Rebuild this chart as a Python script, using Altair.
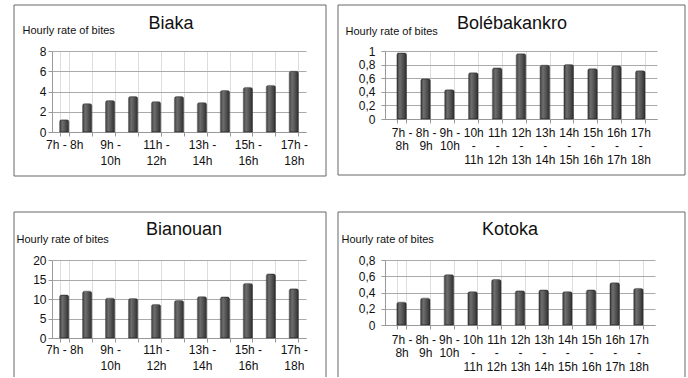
import json
import altair as alt
import pandas as pd

slots = ["7h - 8h", "8h - 9h", "9h - 10h", "10h - 11h", "11h - 12h", "12h - 13h",
         "13h - 14h", "14h - 15h", "15h - 16h", "16h - 17h", "17h - 18h"]
biaka = [1.2, 2.8, 3.1, 3.5, 3.0, 3.5, 2.9, 4.1, 4.4, 4.6, 6.0]
bole = [0.97, 0.59, 0.43, 0.68, 0.75, 0.96, 0.79, 0.80, 0.74, 0.78, 0.71]
bianouan = [11.0, 12.0, 10.2, 10.1, 8.6, 9.6, 10.6, 10.5, 14.0, 16.4, 12.6]
kotoka = [0.28, 0.33, 0.62, 0.41, 0.56, 0.42, 0.43, 0.41, 0.43, 0.52, 0.45]

FONT = "Liberation Sans"
YTITLE = "Hourly rate of bites"


def sparse_map():
    d = {}
    for i, s in enumerate(slots):
        a, b = s.split(" - ")
        if i % 2 == 1:
            d[s] = ""
        elif i == 0:
            d[s] = [s]
        else:
            d[s] = [a + " -", b]
    return d


def full_map():
    d = {}
    for s in slots:
        a, b = s.split(" - ")
        if len(a) == 2:
            d[s] = [a + " -", b]
        else:
            d[s] = [a, "-", b]
    return d


grad = alt.LinearGradient(
    gradient="linear", x1=0, x2=1, y1=0, y2=0,
    stops=[alt.GradientStop(color="#3c3c3c", offset=0),
           alt.GradientStop(color="#6e6e6e", offset=0.3),
           alt.GradientStop(color="#555555", offset=0.6),
           alt.GradientStop(color="#2e2e2e", offset=1)])


def panel(name, vals, w, h, ymax, step, fr, title_dx, title_off, atx, aty,
          labmap, lineh, xpad, ypad, pouter, comma, bottom_open):
    df = pd.DataFrame({"slot": slots, "rate": vals})
    ticks = [round(i * step, 4) for i in range(int(round(ymax / step)) + 1)]
    lexpr = "replace(format(datum.value, '~g'), '.', ',')" if comma else "format(datum.value, '~g')"
    xlab = json.dumps(labmap) + "[datum.value]"
    bars = alt.Chart(df).mark_bar(
        color=grad, stroke="#2a2a2a", strokeWidth=0.5,
        cornerRadiusTopLeft=2, cornerRadiusTopRight=2
    ).encode(
        x=alt.X("slot:N", sort=slots,
                scale=alt.Scale(paddingInner=0.6, paddingOuter=pouter),
                axis=alt.Axis(title=None, labelExpr=xlab, labelAngle=0,
                              labelOverlap=False, labelFontSize=12,
                              labelLineHeight=lineh, labelPadding=xpad,
                              tickBand="extent", tickSize=4, tickColor="#999",
                              domainColor="#999", labelColor="#111",
                              labelFont=FONT)),
        y=alt.Y("rate:Q", scale=alt.Scale(domain=[0, ymax], nice=False),
                axis=alt.Axis(values=ticks, labelExpr=lexpr, title=YTITLE,
                              titleAngle=0, titleAlign="left",
                              titleBaseline="alphabetic", titleX=atx, titleY=aty,
                              titleFont=FONT, titleFontSize=11,
                              titleFontWeight="normal", titleColor="#111",
                              labelFont=FONT, labelFontSize=12, labelColor="#111",
                              labelPadding=ypad, tickSize=4, tickColor="#999",
                              domainColor="#999", gridColor="#aaaaaa"))
    )
    x0, x1, y0, y1 = fr
    if bottom_open:
        fdf = pd.DataFrame({
            "x": [x0, x0, x1], "x2": [x1, x0, x1],
            "y": [y0, y0, y0], "y2": [y0, y1, y1]})
    else:
        fdf = pd.DataFrame({
            "x": [x0, x0, x1, x0], "x2": [x1, x0, x1, x1],
            "y": [y0, y0, y0, y1], "y2": [y0, y1, y1, y1]})
    frame = alt.Chart(fdf).mark_rule(color="#666", strokeWidth=1).encode(
        x=alt.X("x:Q", scale=None), x2="x2:Q",
        y=alt.Y("y:Q", scale=None), y2="y2:Q")
    return alt.layer(bars, frame).properties(
        width=w, height=h,
        title=alt.TitleParams(name, frame="group", anchor="middle", dx=title_dx,
                              offset=title_off, baseline="alphabetic",
                              font=FONT, fontSize=18, fontWeight="normal",
                              color="#111"))


p1 = panel("Biaka", biaka, 254, 81, 8, 2, (-38, 274, -46, 125), -8, -42.7, -30, -18,
           sparse_map(), 16, 3, 2, 0.33, False, False)
p2 = panel("Bolébakankro", bole, 272, 68, 1, 0.2, (-47, 300, -46, 124), -9, -42.7, -40, -17,
           full_map(), 13.5, 4, 6, 0.5, True, False)
p3 = panel("Bianouan", bianouan, 254, 78, 20, 5, (-38, 274, -48, 117), 5, -41.7, -36, -18,
           sparse_map(), 16, 2, 2, 0.33, False, True)
p4 = panel("Kotoka", kotoka, 270, 65, 0.8, 0.2, (-47, 300, -48, 117), -10, -41.7, -44, -18,
           full_map(), 13.5, 5, 6, 0.5, True, True)

chart = alt.concat(
    p1, p2, p3, p4, columns=2, bounds="flush", align="each",
    spacing={"row": 128, "column": 79},
).properties(
    padding={"left": 13, "top": 4, "right": 0, "bottom": 0},
    background="white",
).configure_view(stroke=None).configure_axis(grid=True)

chart.save("out.html", embed_options={"renderer": "svg", "actions": False})
